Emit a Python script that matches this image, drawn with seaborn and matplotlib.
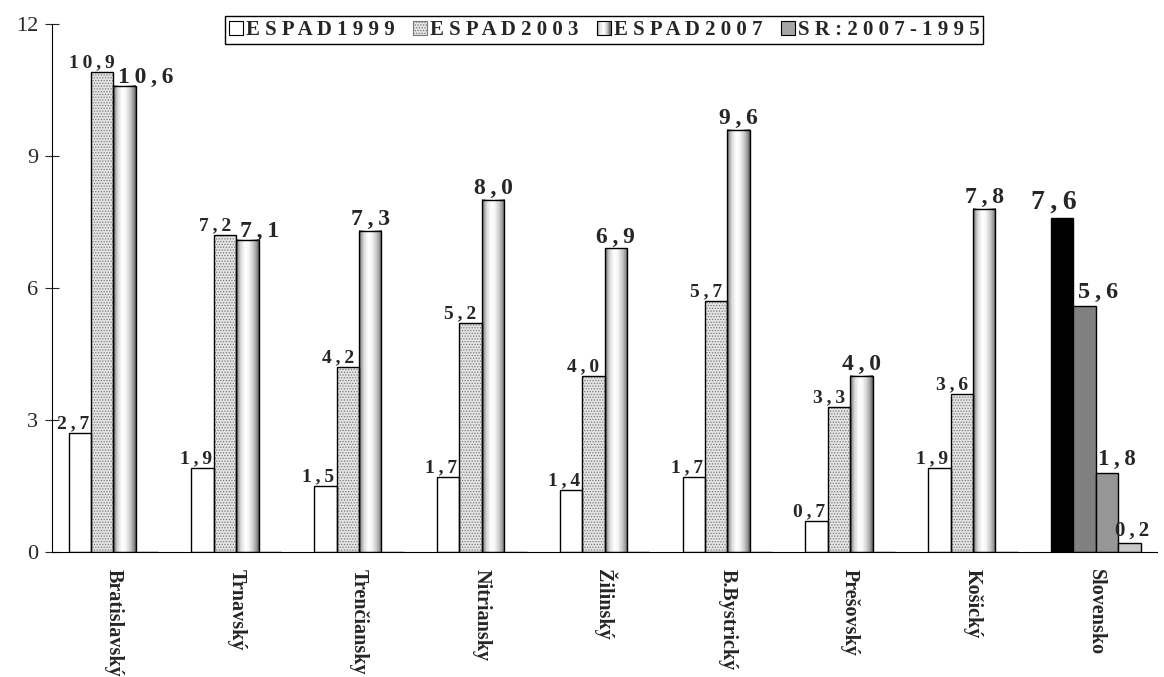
import numpy as np
import pandas as pd
import seaborn as sns
import matplotlib.pyplot as plt
from matplotlib.patches import Rectangle, Patch
from matplotlib.legend_handler import HandlerBase

# regions and series
regions = ["Bratislavský", "Trnavský", "Trenčiansky", "Nitriansky", "Žilinský",
           "B.Bystrický", "Prešovský", "Košický", "Slovensko"]
series = ["ESPAD1999", "ESPAD2003", "ESPAD2007", "SR: 2007-1995"]

espad1999 = [2.7, 1.9, 1.5, 1.7, 1.4, 1.7, 0.7, 1.9, 7.6]
espad2003 = [10.9, 7.2, 4.2, 5.2, 4.0, 5.7, 3.3, 3.6, 5.6]
espad2007 = [10.6, 7.1, 7.3, 8.0, 6.9, 9.6, 4.0, 7.8, 1.8]
sr_diff = [0, 0, 0, 0, 0, 0, 0, 0, 0.2]

# long table for seaborn
df = pd.DataFrame({"region": regions * 4,
                   "series": np.repeat(series, len(regions)),
                   "value": espad1999 + espad2003 + espad2007 + sr_diff})

sns.set_style("white")
plt.rcParams["font.family"] = ["Liberation Serif", "DejaVu Serif"]
plt.rcParams["hatch.linewidth"] = 0.6

fig = plt.figure(figsize=(11.64, 6.77), dpi=100)
ax = fig.add_axes([0.0447, 0.1846, 0.9494, 0.78])

sns.barplot(data=df, x="region", y="value", hue="series", order=regions,
            hue_order=series, width=0.73, legend=False, ax=ax,
            edgecolor="black", linewidth=1.0, palette=["white"] * 4)

# gradient profile of the "cylinder" bars
knots = [0, 0.08, 0.2, 0.4, 0.55, 0.75, 0.9, 1.0]
shade = [0.35, 0.6, 0.85, 1.0, 0.97, 0.8, 0.6, 0.35]
grad = np.interp(np.linspace(0, 1, 64), knots, shade).reshape(1, -1)

slov_colors = ["black", "#808080", "#969696", "#c8c8c8"]
last = len(regions) - 1

for s, cont in enumerate(ax.containers):
    for i, bar in enumerate(cont):
        x, w, h = bar.get_x(), bar.get_width(), bar.get_height()
        bar.set_zorder(2)
        if i == last:
            bar.set_facecolor(slov_colors[s])
            continue
        if s == 1:
            bar.set_facecolor("none")
            ax.add_patch(Rectangle((x, 0), w, h, facecolor="#e4e4e4",
                                   edgecolor="#7a7a7a", lw=0, hatch="......",
                                   zorder=1.5))
        elif s == 2:
            bar.set_facecolor("none")
            ax.imshow(grad, extent=(x, x + w, 0, h), cmap="gray", vmin=0, vmax=1,
                      aspect="auto", interpolation="bicubic", zorder=1.5)
        elif s == 3:
            bar.set_facecolor("#a6a6a6")


def fmt(v):
    return "\u2009".join(f"{v:.1f}".replace(".", ","))


# data labels
dx_series = [-7, -10, 0, 0]
dx_slov = [-8, 14, 10, 3]
size_series = [14, 14, 17, 14]
size_slov = [20, 17.5, 16.5, 15]
vals = [espad1999, espad2003, espad2007, sr_diff]
for s, cont in enumerate(ax.containers):
    for i, bar in enumerate(cont):
        v = vals[s][i]
        if v == 0:
            continue
        xc = bar.get_x() + bar.get_width() / 2
        if i == last:
            ax.annotate(fmt(v), (xc, v), xytext=(dx_slov[s] * 0.72, 2),
                        textcoords="offset points", ha="center", va="bottom",
                        fontsize=size_slov[s], fontweight="bold", zorder=5)
        elif s == 2 and vals[1][i] - 0.6 < v < vals[1][i]:
            ax.annotate(fmt(v), (bar.get_x(), v), xytext=(3, -2),
                        textcoords="offset points", ha="left", va="bottom",
                        fontsize=size_series[s], fontweight="bold", zorder=5)
        else:
            ax.annotate(fmt(v), (xc, v), xytext=(dx_series[s] * 0.72, 0.5),
                        textcoords="offset points", ha="center", va="bottom",
                        fontsize=size_series[s], fontweight="bold", zorder=5)

ax.set_xlim(-0.5, len(regions) - 0.5)
ax.set_ylim(0, 12)
ax.set_yticks([0, 3, 6, 9, 12])
ax.set_xticks(range(len(regions)))
ax.set_xticklabels(regions, rotation=270, fontsize=14.5, fontweight="bold")
ax.set_xticks(np.arange(-0.5, len(regions)), minor=True)
ax.tick_params(axis="x", which="major", length=0, pad=12)
ax.tick_params(axis="x", which="minor", direction="inout", length=10, width=0.8)
ax.tick_params(axis="y", direction="inout", length=10, width=0.8, pad=5,
               labelsize=16, left=True)
ax.set_xlabel("")
ax.set_ylabel("")
for side in ["top", "right"]:
    ax.spines[side].set_visible(False)
for side in ["left", "bottom"]:
    ax.spines[side].set_color("black")
    ax.spines[side].set_linewidth(0.8)


class GradientHandler(HandlerBase):
    def create_artists(self, legend, orig, xd, yd, width, height, fontsize, trans):
        n = 12
        out = []
        for k in range(n):
            g = np.interp((k + 0.5) / n, knots, shade)
            out.append(Rectangle((xd + k * width / n, yd), width / n, height,
                                 facecolor=str(g), lw=0, transform=trans))
        out.append(Rectangle((xd, yd), width, height, facecolor="none",
                             edgecolor="black", lw=0.8, transform=trans))
        return out


h1 = Patch(facecolor="white", edgecolor="black", lw=0.8)
h2 = Patch(facecolor="#e4e4e4", edgecolor="#7a7a7a", lw=0.8, hatch="......")
h3 = Patch(facecolor="white")
h4 = Patch(facecolor="#a6a6a6", edgecolor="black", lw=0.8)
leg_labels = [" ".join(s.replace(" ", "")) for s in series]
leg = fig.legend([h1, h2, h3, h4], leg_labels,
                 loc="upper center", bbox_to_anchor=(0.519, 0.992), ncol=4,
                 handler_map={h3: GradientHandler()},
                 prop={"family": "Liberation Serif", "weight": "bold", "size": 15},
                 handlelength=0.65, handleheight=0.65, handletextpad=0.15,
                 columnspacing=0.9, borderpad=0.2, fancybox=False,
                 edgecolor="black", framealpha=1)
leg.get_frame().set_linewidth(1.0)

fig.savefig("out.png", dpi=100)
